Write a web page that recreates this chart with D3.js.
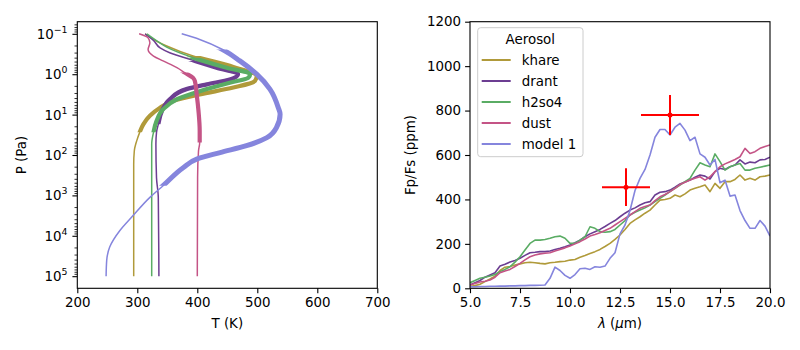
<!DOCTYPE html>
<html>
<head>
<meta charset="utf-8">
<script src="https://cdn.jsdelivr.net/npm/d3@7"></script>
<style>
  body { margin: 0; background: #fff; }
  svg { font-family: "DejaVu Sans", sans-serif; }
</style>
</head>
<body>
<svg width="800" height="350"></svg>
<script>
// Series names and colours
const names = ["khare", "drant", "h2so4", "dust", "model 1"];
const colors = ["#b09a3a", "#6c3e92", "#5aac64", "#c45486", "#8585dd"];

// Temperature-pressure profiles (T in K, P in Pa)
const tKhare = [313, 332, 349, 393, 460, 499, 496, 460, 404, 360, 338, 321, 310, 304, 299, 295, 294, 294];
const pKhare = [0.1, 0.151, 0.2, 0.355, 0.66, 1.11, 1.48, 2.14, 3.16, 4.57, 6.76, 10.7, 17.4, 27.5, 44.7, 79.4, 170, 1e5];
const tDrant = [313, 327, 338, 354, 396, 432, 468, 454, 416, 382, 354, 341, 335, 332, 331, 332, 335, 336];
const pDrant = [0.1, 0.145, 0.224, 0.295, 0.468, 0.69, 1, 1.35, 1.78, 2.34, 4.17, 8.13, 17.4, 27.5, 53.7, 363, 1120, 1e5];
const tH2so4 = [316, 335, 349, 393, 449, 488, 485, 454, 404, 366, 343, 332, 327, 324, 324, 324];
const pH2so4 = [0.1, 0.158, 0.214, 0.389, 0.69, 1, 1.23, 1.62, 2.63, 4.17, 7.41, 14.5, 27.5, 53.7, 170, 1e5];
const tDust = [303, 318, 321, 318, 327, 343, 366, 379, 393, 396, 399, 402, 404, 404, 402, 400.5, 400];
const pDust = [0.1, 0.126, 0.166, 0.245, 0.355, 0.468, 0.69, 0.91, 1.23, 1.48, 3.16, 8.13, 25.1, 49, 79.4, 363, 1e5];
const tModel = [374, 404, 442, 471, 499, 521, 535, 538, 532, 516, 482, 438, 399, 377, 343, 321, 293, 271, 254, 249, 248];
const pModel = [0.1, 0.138, 0.245, 0.468, 1, 2.34, 6.76, 9.8, 20.9, 37.2, 58.9, 87.1, 126, 204, 575, 1120, 3160, 7410, 19000, 40700, 1e5];
// pressure range drawn thick (photosphere)
const thickRange = [[0.355, 27.5], [0.468, 17.4], [0.389, 27.5], [0.91, 49], [0.245, 575]];

// Emission spectra, Fp/Fs (ppm) against wavelength (micron)
const wavelength = [5.0, 5.25, 5.5, 5.75, 6.0, 6.25, 6.5, 6.75, 7.0, 7.25, 7.5, 7.75, 8.0, 8.25, 8.5, 8.75,
  9.0, 9.25, 9.5, 9.75, 10.0, 10.25, 10.5, 10.75, 11.0, 11.25, 11.5, 11.75, 12.0, 12.25, 12.5, 12.75,
  13.0, 13.25, 13.5, 13.75, 14.0, 14.25, 14.5, 14.75, 15.0, 15.25, 15.5, 15.75, 16.0, 16.25, 16.5, 16.75,
  17.0, 17.25, 17.5, 17.75, 18.0, 18.25, 18.5, 18.75, 19.0, 19.25, 19.5, 19.75, 20.0];
const fKhare = [8, 12, 18, 30, 42, 55, 80, 95, 98, 105, 110, 115, 117, 115, 112, 110,
  115, 117, 120, 122, 127, 130, 140, 148, 157, 165, 175, 188, 202, 220, 240, 265,
  292, 308, 322, 338, 352, 375, 397, 400, 405, 420, 412, 425, 442, 450, 457, 465,
  435, 472, 450, 480, 480, 490, 510, 487, 495, 487, 502, 505, 510];
const fDrant = [15, 25, 35, 50, 60, 70, 100, 108, 118, 125, 135, 148, 160, 162, 165, 165,
  168, 175, 180, 187, 195, 205, 217, 232, 245, 255, 265, 278, 292, 305, 322, 338,
  352, 362, 375, 385, 390, 420, 432, 435, 442, 455, 470, 478, 487, 500, 510, 505,
  492, 525, 540, 535, 547, 555, 578, 560, 568, 565, 578, 580, 590];
const fH2so4 = [25, 35, 45, 50, 55, 62, 75, 85, 97, 118, 142, 172, 202, 217, 217, 220,
  225, 232, 235, 225, 202, 202, 217, 232, 277, 270, 255, 252, 255, 265, 285, 305,
  330, 342, 352, 362, 375, 390, 405, 420, 435, 450, 465, 480, 495, 532, 565, 555,
  547, 605, 570, 532, 547, 555, 562, 532, 532, 540, 545, 550, 555];
const fDust = [15, 22, 28, 32, 37, 50, 70, 78, 85, 98, 112, 128, 142, 150, 155, 158,
  160, 168, 175, 182, 190, 200, 210, 222, 235, 242, 250, 260, 270, 285, 300, 315,
  330, 345, 360, 368, 375, 395, 412, 422, 435, 450, 467, 477, 487, 495, 502, 487,
  502, 525, 547, 560, 570, 580, 592, 630, 607, 615, 630, 638, 645];
const fModel = [7, 7, 8, 8, 9, 9, 10, 10, 11, 11, 12, 12, 13, 13, 14, 15,
  45, 95, 80, 58, 45, 62, 88, 90, 85, 97, 95, 100, 135, 160, 245, 285,
  350, 440, 495, 535, 600, 680, 715, 715, 690, 725, 742, 712, 665, 680, 605, 590,
  555, 580, 475, 487, 415, 420, 350, 305, 270, 270, 305, 280, 235];

// Observed points with errors
const obsLam = [12.8, 15.0];
const obsVal = [455, 780];
const obsLamErr = [1.2, 1.45];
const obsValErr = [85, 90];

const svg = d3.select("svg");
const fontSize = 13.4;
const plotTop = 21.7, plotBottom = 288.3;

// ---------- left panel: T-P profiles ----------
const xT = d3.scaleLinear().domain([200, 700]).range([77.3, 377.3]);
const yP = d3.scaleLog().domain([Math.pow(10, -1.3), Math.pow(10, 5.3)]).range([plotTop, plotBottom]);

const left = svg.append("g");

const profiles = [[tKhare, pKhare], [tDrant, pDrant], [tH2so4, pH2so4], [tDust, pDust], [tModel, pModel]];
const profLine = d3.line()
    .x(d => xT(d[0]))
    .y(d => yP(d[1]))
    .curve(d3.curveMonotoneY);

profiles.forEach(function(pr, i) {
    const pts = pr[0].map((t, j) => [t, pr[1][j]]);
    const d = profLine(pts);
    left.append("path")
        .attr("d", d)
        .attr("fill", "none")
        .attr("stroke", colors[i])
        .attr("stroke-width", 1.5);
    // thick part, clipped to its pressure band
    const cid = "band" + i;
    left.append("clipPath").attr("id", cid)
        .append("rect")
        .attr("x", 0).attr("width", 800)
        .attr("y", yP(thickRange[i][0]))
        .attr("height", yP(thickRange[i][1]) - yP(thickRange[i][0]));
    left.append("path")
        .attr("d", d)
        .attr("fill", "none")
        .attr("stroke", colors[i])
        .attr("stroke-width", i == 4 ? 5 : 4.2)
        .attr("clip-path", "url(#" + cid + ")");
});

// axes
left.append("g")
    .attr("transform", "translate(0," + plotBottom + ")")
    .call(d3.axisBottom(xT).tickValues([200, 300, 400, 500, 600, 700]).tickSizeOuter(0).tickSize(4.9).tickPadding(4));
left.append("g")
    .attr("transform", "translate(77.3,0)")
    .call(d3.axisLeft(yP).tickValues([0.1, 1, 10, 100, 1000, 1e4, 1e5]).tickFormat("").tickSizeOuter(0).tickSize(4.9));

// minor ticks on the log axis
const minor = yP.ticks().filter(v => {
    const e = Math.log10(v);
    return Math.abs(e - Math.round(e)) > 1e-6;
});
left.append("g").selectAll("line")
    .data(minor)
    .join("line")
    .attr("x1", 77.3).attr("x2", 77.3 - 2.8)
    .attr("y1", d => yP(d)).attr("y2", d => yP(d))
    .attr("stroke", "#000").attr("stroke-width", 0.8);

// power-of-ten labels
const decades = [-1, 0, 1, 2, 3, 4, 5];
decades.forEach(function(e) {
    const t = left.append("text")
        .attr("x", 67.5)
        .attr("y", yP(Math.pow(10, e)) + 5)
        .attr("text-anchor", "end")
        .attr("font-size", fontSize);
    t.append("tspan").text("10");
    t.append("tspan")
        .attr("dy", -6)
        .attr("font-size", fontSize * 0.7)
        .text(e < 0 ? "\u2212" + (-e) : e);
});

left.append("rect")
    .attr("x", 77.3).attr("y", plotTop)
    .attr("width", 300).attr("height", plotBottom - plotTop)
    .attr("fill", "none").attr("stroke", "#000").attr("stroke-width", 1.1);

left.append("text")
    .attr("x", 227.3).attr("y", 328)
    .attr("text-anchor", "middle")
    .attr("font-size", fontSize)
    .text("T (K)");
left.append("text")
    .attr("transform", "translate(26," + ((plotTop + plotBottom) / 2) + ") rotate(-90)")
    .attr("text-anchor", "middle")
    .attr("font-size", fontSize)
    .text("P (Pa)");

// ---------- right panel: spectra ----------
const xL = d3.scaleLinear().domain([5, 20]).range([470, 770]);
const yF = d3.scaleLinear().domain([0, 1200]).range([plotBottom, plotTop]);

const right = svg.append("g");
right.append("clipPath").attr("id", "plotR")
    .append("rect").attr("x", 470).attr("y", plotTop).attr("width", 300).attr("height", plotBottom - plotTop);

const spectra = [fKhare, fDrant, fH2so4, fDust, fModel];
const specLine = d3.line()
    .x((d, j) => xL(wavelength[j]))
    .y(d => yF(d));

const lines = right.append("g").attr("clip-path", "url(#plotR)");
spectra.forEach(function(s, i) {
    lines.append("path")
        .attr("d", specLine(s))
        .attr("fill", "none")
        .attr("stroke", colors[i])
        .attr("stroke-width", 1.6)
        .attr("stroke-linejoin", "round");
});

// error bars
obsLam.forEach(function(l, i) {
    const g = right.append("g").attr("stroke", "#ff0000").attr("stroke-width", 2);
    g.append("line")
        .attr("x1", xL(l - obsLamErr[i])).attr("x2", xL(l + obsLamErr[i]))
        .attr("y1", yF(obsVal[i])).attr("y2", yF(obsVal[i]));
    g.append("line")
        .attr("x1", xL(l)).attr("x2", xL(l))
        .attr("y1", yF(obsVal[i] - obsValErr[i])).attr("y2", yF(obsVal[i] + obsValErr[i]));
    right.append("circle")
        .attr("cx", xL(l)).attr("cy", yF(obsVal[i]))
        .attr("r", 2.5).attr("fill", "#ff0000");
});

right.append("g")
    .attr("transform", "translate(0," + plotBottom + ")")
    .call(d3.axisBottom(xL).tickValues([5, 7.5, 10, 12.5, 15, 17.5, 20]).tickFormat(d3.format(".1f")).tickSizeOuter(0).tickSize(4.9).tickPadding(4));
right.append("g")
    .attr("transform", "translate(470,0)")
    .call(d3.axisLeft(yF).tickValues([0, 200, 400, 600, 800, 1000, 1200]).tickFormat(d3.format("d")).tickSizeOuter(0).tickSize(4.9).tickPadding(4));

right.append("rect")
    .attr("x", 470).attr("y", plotTop)
    .attr("width", 300).attr("height", plotBottom - plotTop)
    .attr("fill", "none").attr("stroke", "#000").attr("stroke-width", 1.1);

const xlab = right.append("text")
    .attr("x", 620).attr("y", 328)
    .attr("text-anchor", "middle")
    .attr("font-size", fontSize);
xlab.append("tspan").attr("font-style", "italic").text("\u03bb");
xlab.append("tspan").text(" (");
xlab.append("tspan").attr("font-style", "italic").text("\u03bc");
xlab.append("tspan").text("m)");
right.append("text")
    .attr("transform", "translate(415," + ((plotTop + plotBottom) / 2) + ") rotate(-90)")
    .attr("text-anchor", "middle")
    .attr("font-size", fontSize)
    .text("Fp/Fs (ppm)");

// legend
const leg = right.append("g");
leg.append("rect")
    .attr("x", 477.7).attr("y", 27.7)
    .attr("width", 105.3).attr("height", 129)
    .attr("rx", 3)
    .attr("fill", "#fff").attr("fill-opacity", 0.8)
    .attr("stroke", "#cccccc").attr("stroke-width", 1);
leg.append("text")
    .attr("x", 530.3).attr("y", 44)
    .attr("text-anchor", "middle")
    .attr("font-size", fontSize)
    .text("Aerosol");
names.forEach(function(n, i) {
    const yy = 60 + i * 21;
    leg.append("line")
        .attr("x1", 481.7).attr("x2", 510.7)
        .attr("y1", yy).attr("y2", yy)
        .attr("stroke", colors[i]).attr("stroke-width", 2);
    leg.append("text")
        .attr("x", 521.7).attr("y", yy + 5)
        .attr("font-size", fontSize)
        .text(n);
});

// axis styling
svg.selectAll(".domain").remove();
svg.selectAll(".tick text").attr("font-size", fontSize).attr("font-family", "DejaVu Sans").attr("fill", "#000");
svg.selectAll(".tick line").attr("stroke-width", 1.1);
</script>
</body>
</html>
